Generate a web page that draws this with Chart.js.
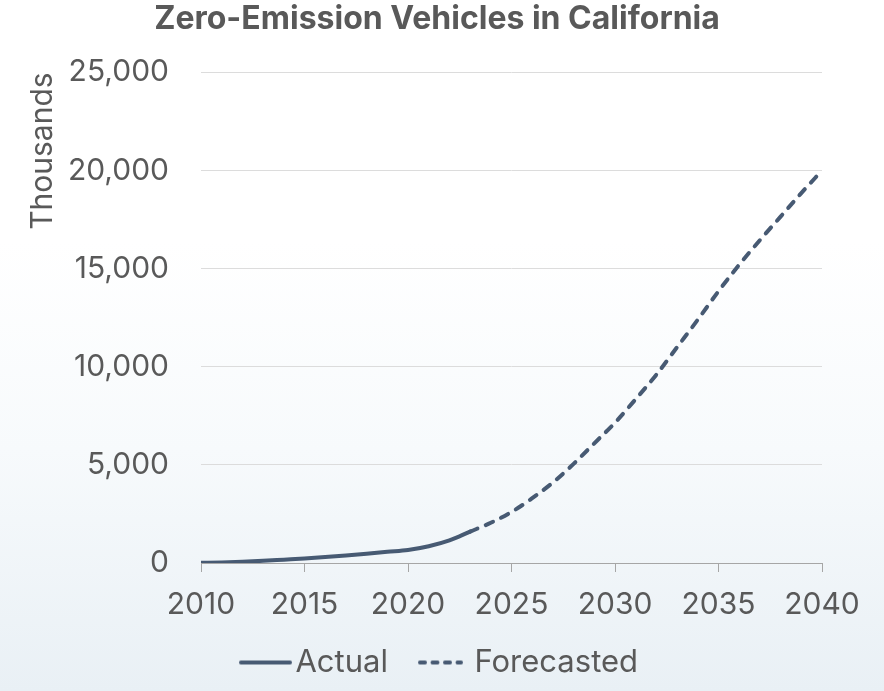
<!DOCTYPE html>
<html>
<head>
<meta charset="utf-8">
<script src="https://cdn.jsdelivr.net/npm/chart.js@4.4.1/dist/chart.umd.min.js"></script>
<style>
  html, body { margin: 0; padding: 0; }
  body {
    width: 884px; height: 691px; overflow: hidden;
    background: linear-gradient(to bottom, #ffffff 0%, #ffffff 35%, #f7fafc 65%, #e9f0f5 100%);
  }
  #wrap { position: relative; width: 884px; height: 691px; }
</style>
</head>
<body>
<div id="wrap"><canvas id="c" width="884" height="691"></canvas></div>
<script>
// Years on the x axis
const years = [2010,2011,2012,2013,2014,2015,2016,2017,2018,2019,2020,
               2021,2022,2023,2024,2025,2026,2027,2028,2029,2030,
               2031,2032,2033,2034,2035,2036,2037,2038,2039,2040];
// Zero-emission vehicles in California, thousands (actual)
const actualValues = [10,30,60,110,170,230,300,380,470,570,660,
                      850,1150,1600,null,null,null,null,null,null,null,
                      null,null,null,null,null,null,null,null,null,null];
// Forecasted, thousands
const forecastValues = [null,null,null,null,null,null,null,null,null,null,null,
                        null,null,1600,2050,2600,3300,4100,5050,6100,7150,
                        8350,9600,11000,12400,13850,15200,16450,17650,18850,20000];
const xTicks = [2010,2015,2020,2025,2030,2035,2040];
const yTicks = [0,5000,10000,15000,20000,25000];
const seriesNames = ['Actual','Forecasted'];

const lineColor = '#475a73';
const textColor = '#595959';
const FONT = 'Inter, "Liberation Sans", Arial, sans-serif';

const toPts = arr => years.map((yr,i) => ({x: yr, y: arr[i]}));

// legend line samples (drawn into small canvases used as point styles)
function sample(dash, x0, x1) {
  const cv = document.createElement('canvas');
  cv.width = 72; cv.height = 8;
  const g = cv.getContext('2d');
  g.strokeStyle = lineColor; g.lineWidth = 4; g.lineCap = 'round';
  g.setLineDash(dash);
  g.beginPath(); g.moveTo(x0, 4); g.lineTo(x1, 4); g.stroke();
  return cv;
}
const samples = [sample([], 19, 68), sample([5, 7.5], 19, 60)];

new Chart(document.getElementById('c'), {
  type: 'line',
  data: {
    datasets: [
      {
        label: seriesNames[0],
        data: toPts(actualValues),
        borderColor: lineColor,
        backgroundColor: lineColor,
        borderWidth: 4,
        pointRadius: 0,
        tension: 0.4,
        cubicInterpolationMode: 'monotone',
        borderCapStyle: 'round',
        spanGaps: false
      },
      {
        label: seriesNames[1],
        data: toPts(forecastValues),
        borderColor: lineColor,
        backgroundColor: lineColor,
        borderWidth: 4,
        borderDash: [8, 9],
        borderCapStyle: 'round',
        pointRadius: 0,
        tension: 0.4,
        cubicInterpolationMode: 'monotone',
        spanGaps: false
      }
    ]
  },
  options: {
    responsive: false,
    animation: false,
    devicePixelRatio: 1,
    layout: { padding: { left: 0, right: 10, top: 0, bottom: 3 } },
    plugins: {
      title: {
        display: true,
        text: 'Zero-Emission Vehicles in California',
        color: textColor,
        font: { family: FONT, size: 32, weight: 'bold' },
        padding: { top: 0, bottom: 34 }
      },
      legend: {
        position: 'bottom',
        labels: {
          color: textColor,
          font: { family: FONT, size: 31 },
          usePointStyle: true,
          pointStyleWidth: 44,
          boxHeight: 8,
          padding: 27,
          generateLabels: chart => chart.data.datasets.map((ds, i) => ({
            text: ds.label,
            fillStyle: 'rgba(0,0,0,0)',
            strokeStyle: 'rgba(0,0,0,0)',
            lineWidth: 0,
            pointStyle: samples[i],
            fontColor: textColor,
            hidden: false,
            datasetIndex: i
          }))
        }
      },
      tooltip: { enabled: false }
    },
    scales: {
      x: {
        type: 'linear',
        min: 2010, max: 2040,
        afterBuildTicks: s => { s.ticks = xTicks.map(v => ({value: v})); },
        afterFit: s => { s.height = 57; },
        border: { display: true, color: '#a6a6a6', width: 1 },
        grid: { display: true, drawOnChartArea: false, drawTicks: true, tickLength: 9, color: '#a6a6a6' },
        ticks: {
          color: textColor,
          font: { family: FONT, size: 30 },
          padding: 15,
          maxRotation: 0,
          callback: v => String(v)
        }
      },
      y: {
        min: 0, max: 25000,
        afterBuildTicks: s => { s.ticks = yTicks.map(v => ({value: v})); },
        afterFit: s => { s.width = 201; },
        border: { display: false },
        grid: { color: '#dcdcdc', lineWidth: 1, drawTicks: false },
        ticks: {
          color: textColor,
          font: { family: FONT, size: 30 },
          padding: 32,
          callback: v => Number(v).toLocaleString('en-US')
        },
        title: {
          display: true,
          text: 'Thousands',
          align: 'end',
          color: textColor,
          font: { family: FONT, size: 30 },
          padding: { top: 25, bottom: 0 }
        }
      },
      yRight: {
        position: 'right',
        min: 0, max: 25000,
        afterFit: s => { s.width = 52; },
        border: { display: false },
        grid: { drawOnChartArea: false, drawTicks: false },
        ticks: { display: false }
      }
    }
  }
});
</script>
</body>
</html>
